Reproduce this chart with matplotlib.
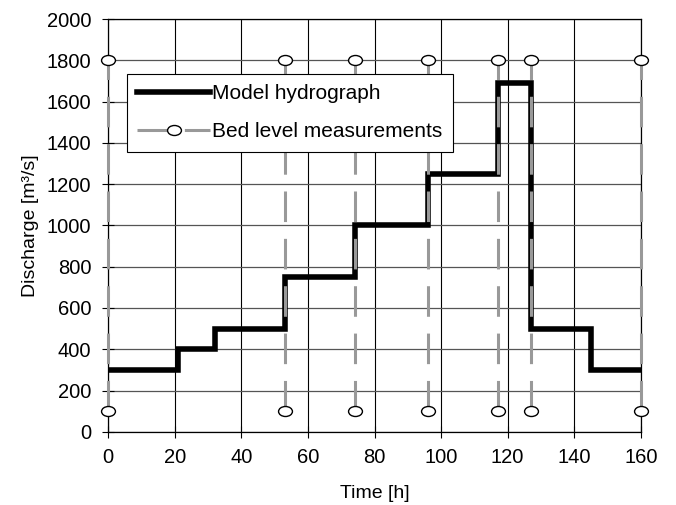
import matplotlib
matplotlib.use("Agg")
import matplotlib.pyplot as plt
from matplotlib.path import Path
from matplotlib.transforms import Affine2D

# model hydrograph, step values (discharge holds until next time)
t_steps = [0, 21, 32, 53, 74, 96, 117, 127, 145, 160]
q_steps = [300, 400, 500, 750, 1000, 1250, 1690, 500, 300, 300]

# bed level measurement times, drawn as vertical markers from q_low to q_high
t_meas = [0, 53, 74, 96, 117, 127, 160]
q_low = 100
q_high = 1800

plt.rcParams["font.family"] = ["Liberation Sans", "DejaVu Sans"]

# slightly flattened circle like the original marker
ellipse = Path.unit_circle().transformed(Affine2D().scale(1.0, 0.72))

fig = plt.figure(figsize=(6.76, 5.05), dpi=100)
ax = fig.add_axes([0.16, 0.145, 0.788, 0.817])

ax.step(t_steps, q_steps, where="post", color="black", lw=4.0,
        solid_joinstyle="miter", zorder=3, label="Model hydrograph")

for i, t in enumerate(t_meas):
    ax.plot([t, t], [q_low, q_high], color="#999999", lw=2.2,
            dashes=(10, 5.5), marker=ellipse, ms=10, mfc="white", mec="black",
            mew=1.0, clip_on=False, zorder=4,
            label="Bed level measurements" if i == 0 else None)

ax.set_xlim(0, 160)
ax.set_ylim(0, 2000)
ax.set_xticks(range(0, 161, 20))
ax.set_yticks(range(0, 2001, 200))
ax.xaxis.grid(True, color="black", lw=0.8)
ax.yaxis.grid(True, color="#555555", lw=0.9)
ax.set_axisbelow(True)
ax.tick_params(direction="inout", length=8, width=0.8, labelsize=14.5, pad=8)
for s in ax.spines.values():
    s.set_linewidth(0.9)

ax.set_xlabel("Time [h]", fontsize=14, labelpad=13)
ax.set_ylabel("Discharge [m³/s]", fontsize=14, labelpad=6)

leg = ax.legend(loc="upper left", bbox_to_anchor=(0.035, 0.867),
                fontsize=15, frameon=True, fancybox=False, framealpha=1,
                edgecolor="black", handlelength=3.5, handletextpad=0.1,
                labelspacing=0.9, borderaxespad=0, borderpad=0.5)
leg.get_frame().set_linewidth(0.8)

fig.savefig("out.png", dpi=100)
